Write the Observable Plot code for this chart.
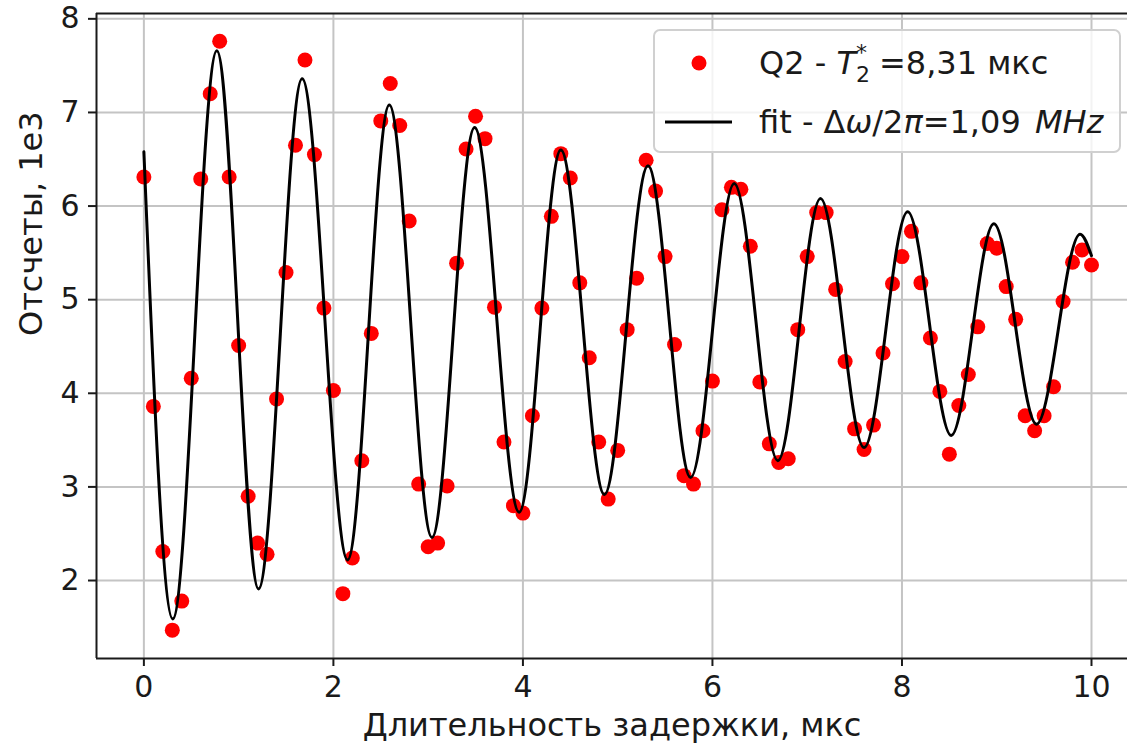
<!DOCTYPE html>
<html><head><meta charset="utf-8">
<script src="https://cdn.jsdelivr.net/npm/d3@7"></script>
<script src="https://cdn.jsdelivr.net/npm/@observablehq/plot@0.6"></script>
<style>
body{margin:0;background:#fff;}
#chart{position:relative;width:1127px;height:751px;overflow:hidden;}
</style></head><body><div id="chart"></div>
<script>
// --- data ---
const times = [0.0,0.1,0.2,0.3,0.4,0.5,0.6,0.7,0.8,0.9,
  1.0,1.1,1.2,1.3,1.4,1.5,1.6,1.7,1.8,1.9,
  2.0,2.1,2.2,2.3,2.4,2.5,2.6,2.7,2.8,2.9,
  3.0,3.1,3.2,3.3,3.4,3.5,3.6,3.7,3.8,3.9,
  4.0,4.1,4.2,4.3,4.4,4.5,4.6,4.7,4.8,4.9,
  5.0,5.1,5.2,5.3,5.4,5.5,5.6,5.7,5.8,5.9,
  6.0,6.1,6.2,6.3,6.4,6.5,6.6,6.7,6.8,6.9,
  7.0,7.1,7.2,7.3,7.4,7.5,7.6,7.7,7.8,7.9,
  8.0,8.1,8.2,8.3,8.4,8.5,8.6,8.7,8.8,8.9,
  9.0,9.1,9.2,9.3,9.4,9.5,9.6,9.7,9.8,9.9,10.0];
const counts = [6.31,3.86,2.31,1.47,1.78,4.16,6.29,7.20,7.76,6.31,
  4.51,2.90,2.40,2.28,3.94,5.29,6.65,7.56,6.55,4.91,
  4.03,1.86,2.24,3.28,4.64,6.91,7.31,6.86,5.84,3.03,
  2.36,2.40,3.01,5.39,6.61,6.96,6.72,4.92,3.48,2.80,
  2.72,3.76,4.91,5.89,6.56,6.30,5.18,4.38,3.48,2.87,
  3.39,4.68,5.23,6.49,6.16,5.46,4.52,3.12,3.03,3.60,
  4.13,5.96,6.20,6.18,5.57,4.12,3.46,3.26,3.30,4.68,
  5.46,5.93,5.93,5.11,4.34,3.62,3.40,3.66,4.43,5.17,
  5.46,5.73,5.18,4.59,4.02,3.35,3.87,4.20,4.71,5.60,
  5.55,5.14,4.79,3.76,3.60,3.76,4.07,4.98,5.40,5.53,5.37];
// fit curve: start, successive extrema, end
const fitTimes = [0, 0.305, 0.77, 1.21, 1.67, 2.15, 2.59, 3.04, 3.49, 3.96, 4.40, 4.86,
  5.32, 5.77, 6.23, 6.69, 7.14, 7.60, 8.06, 8.52, 8.97, 9.42, 9.88, 10.0];
const fitCounts = [6.58, 1.59, 7.66, 1.91, 7.36, 2.22, 7.08, 2.46, 6.84, 2.73, 6.60, 2.92,
  6.43, 3.10, 6.24, 3.28, 6.08, 3.42, 5.94, 3.55, 5.81, 3.67, 5.70, 5.47];
const xTicks = [0, 2, 4, 6, 8, 10];
const yTicks = [2, 3, 4, 5, 6, 7, 8];
const xDomain = [-0.5, 10.38];
const yDomain = [1.167, 8.057];
const xLabel = "Длительность задержки, мкс";
const yLabel = "Отсчеты, 1e3";

const points = times.map((t, i) => ({t, v: counts[i]}));
const fit = fitTimes.map((t, i) => ({t, v: fitCounts[i]}));

const ink = "#1a1a1a";
const fmt = d => String(d);
const plot = Plot.plot({
  width: 1127, height: 751,
  marginLeft: 96, marginRight: 0, marginTop: 13, marginBottom: 93,
  style: {fontFamily: "DejaVu Sans", fontSize: "30px", color: ink, background: "#fff"},
  x: {domain: xDomain, label: null},
  y: {domain: yDomain, label: null},
  marks: [
    Plot.gridX(xTicks, {stroke: "#c4c4c4", strokeOpacity: 1, strokeWidth: 2}),
    Plot.gridY(yTicks, {stroke: "#c4c4c4", strokeOpacity: 1, strokeWidth: 2}),
    Plot.dot(points, {x: "t", y: "v", r: 7.5, fill: "red"}),
    Plot.line(fit, {x: "t", y: "v", curve: "monotone-x", stroke: "black", strokeWidth: 3}),
    Plot.ruleY([yDomain[0], yDomain[1]], {stroke: ink, strokeWidth: 2}),
    Plot.ruleX([xDomain[0]], {stroke: ink, strokeWidth: 2}),
    Plot.axisX(xTicks, {tickSize: 8, tickPadding: 9, strokeWidth: 2, fontSize: 30, tickFormat: fmt, label: null}),
    Plot.axisY(yTicks, {tickSize: 8, tickPadding: 9, strokeWidth: 2, fontSize: 30, tickFormat: fmt, label: null}),
    Plot.text([xLabel], {frameAnchor: "bottom", dy: 77, fontSize: 32, fill: ink}),
    Plot.text([yLabel], {frameAnchor: "left", dx: -65, rotate: -90, fontSize: 32, fill: ink})
  ]
});
document.getElementById("chart").appendChild(plot);

// legend inside the plot area
const svg = d3.select(plot);
const lg = svg.append("g").attr("font-family", "DejaVu Sans").attr("font-size", 32)
  .attr("fill", ink).attr("text-anchor", "start");
lg.append("rect").attr("x", 654).attr("y", 30).attr("width", 466).attr("height", 122)
  .attr("rx", 6).attr("fill", "white").attr("fill-opacity", 0.8)
  .attr("stroke", "#d0d0d0").attr("stroke-width", 2);
lg.append("circle").attr("cx", 699).attr("cy", 63).attr("r", 7.5).attr("fill", "red");
lg.append("line").attr("x1", 665).attr("x2", 732).attr("y1", 122).attr("y2", 122)
  .attr("stroke", "black").attr("stroke-width", 3);
const t1 = lg.append("text").attr("x", 759).attr("y", 74).attr("text-anchor", "start");
t1.append("tspan").text("Q2 - ");
t1.append("tspan").attr("font-style", "italic").text("T");
t1.append("tspan").attr("font-size", 22).attr("dy", 8).text("2");
t1.append("tspan").attr("font-size", 22).attr("dx", -14).attr("dy", -22).text("*");
t1.append("tspan").attr("dx", 12).attr("dy", 14).text("=8,31 мкс");
const t2 = lg.append("text").attr("x", 759).attr("y", 133).attr("text-anchor", "start");
t2.append("tspan").text("fit - Δ");
t2.append("tspan").attr("font-style", "italic").text("ω");
t2.append("tspan").text("/2");
t2.append("tspan").attr("font-style", "italic").text("π");
t2.append("tspan").text("=1,09 ");
t2.append("tspan").attr("font-style", "italic").attr("dx", 4).text("MHz");
</script></body></html>
